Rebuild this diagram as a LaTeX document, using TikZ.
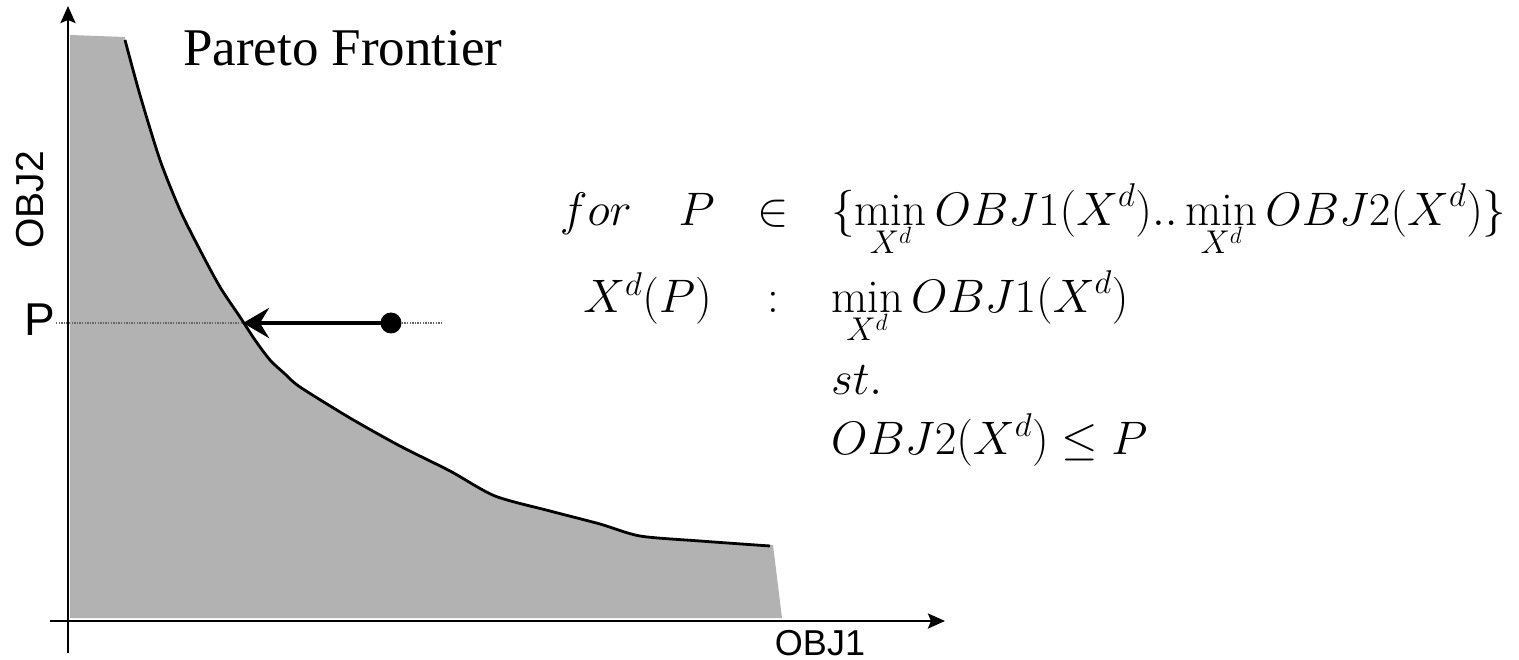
\RequirePackage{fix-cm}
\documentclass[tikz,border=0pt]{standalone}
\usepackage{fontspec}
\newfontfamily\serifx{Liberation Serif}
\newfontfamily\sansx{Liberation Sans}
\usetikzlibrary{arrows.meta}
\begin{document}
\begin{tikzpicture}[x=1pt,y=-1pt,
  axis/.style={line width=2.6pt,-{Stealth[length=17pt,width=15pt,inset=3pt]}},
  frontier/.style={line width=2.8pt,line join=round},
  region/.style={fill=gray!60,draw=none},
  guide/.style={line width=1.1pt,gray!80!black,dash pattern=on 1.4pt off 1.2pt},
  move/.style={line width=4.5pt,-{Stealth[length=26pt,width=30pt,inset=9pt]}},
  sanslab/.style={inner sep=0pt,font=\sansx\fontsize{#1}{#1}\selectfont},
  mrow/.style={inner sep=0pt,font=\fontsize{47}{52}\selectfont}]
\useasboundingbox (0,0) rectangle (1519,660);
% region
\fill[region] (70,35) -- (125,37) -- plot[smooth,tension=0.45] coordinates {(125,40) (140,95) (160,160) (180,210) (200,250) (220,287) (240,317) (255,340) (270,360) (285,374) (300,387) (350,418) (400,446) (450,471) (495,496) (550,511) (600,524) (640,536) (700,541) (773,545)} -- (782,618) -- (70,618) -- cycle;
% dotted level line
\coordinate (gl) at (56,323);
\coordinate (gr) at (443,323);
\draw[guide] (gl) -- (gr);
% axes
\coordinate (xo) at (50,621);
\coordinate (xe) at (945,621);
\coordinate (yo) at (68,653);
\coordinate (ye) at (68,6);
\draw[axis] (xo) -- (xe);
\draw[axis] (yo) -- (ye);
% frontier curve
\draw[frontier] plot[smooth,tension=0.45] coordinates {(125,40) (140,95) (160,160) (180,210) (200,250) (220,287) (240,317) (255,340) (270,360) (285,374) (300,387) (350,418) (400,446) (450,471) (495,496) (550,511) (600,524) (640,536) (700,541) (770,546)};
% point and arrow
\node[circle,fill=black,inner sep=0pt,minimum size=21pt] (dot) at (391,323) {};
\coordinate (hit) at (243,323);
\draw[move] (dot.center) -- (hit);
% labels
\node[sanslab=39,rotate=90] (obj2) at (30,200) {OBJ2};
\node[sanslab=36] (obj1) at (820,643) {OBJ1};
\node[sanslab=46] (plab) at (40,320) {P};
\node[inner sep=0pt,anchor=base west,font=\serifx\fontsize{53}{53}\selectfont] (title) at (183,66) {Pareto Frontier};
% formulation
\node[mrow,anchor=base east] (r1a) at (715,226) {$for\quad P$};
\node[mrow,anchor=base] (r1b) at (773,226) {$\in$};
\node[mrow,anchor=base west] (r1c) at (831,226) {$\displaystyle\{\min_{X^d} OBJ1(X^d)..\min_{X^d} OBJ2(X^d)\}$};
\node[mrow,anchor=base east] (r2a) at (712,313) {$X^d(P)$};
\node[mrow,anchor=base] (r2b) at (773,313) {$:$};
\node[mrow,anchor=base west] (r2c) at (831,313) {$\displaystyle\min_{X^d} OBJ1(X^d)$};
\node[mrow,anchor=base west] (r3c) at (831,395) {$st.$};
\node[mrow,anchor=base west] (r4c) at (831,454) {$OBJ2(X^d)\leq P$};
\end{tikzpicture}
\end{document}
